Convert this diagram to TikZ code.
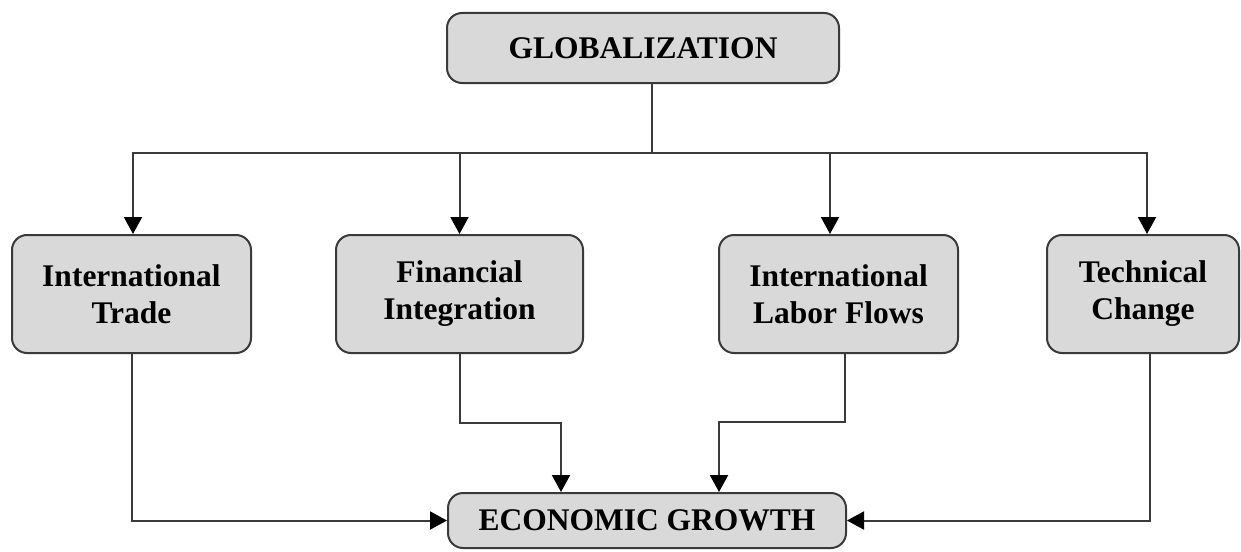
\documentclass[tikz,border=0pt]{standalone}
\usepackage{fontspec}
\setmainfont{Liberation Serif}
\usetikzlibrary{arrows.meta,calc}
\definecolor{boxfill}{HTML}{D9D9D9}
\definecolor{edge}{HTML}{3A3A3A}
\tikzset{
  box/.style={draw=edge, line width=2pt, fill=boxfill, rounded corners=15pt,
    align=center, inner sep=0pt, font=\fontsize{31.5}{37}\selectfont\bfseries},
  conn/.style={draw=edge, line width=2pt},
  arr/.style={conn, -{Triangle[length=17pt,width=18pt,black]}},
}
\begin{document}
\begin{tikzpicture}[x=1pt,y=1pt]
\useasboundingbox (0,0) rectangle (1241,-551);
\fill[white] (0,0) rectangle (1241,-551);
\node[box, minimum width=392pt, minimum height=70pt] (glob) at (643,-48) {GLOBALIZATION};
\node[box, minimum width=239pt, minimum height=118pt] (trade) at (131.5,-294) {International\\Trade};
\node[box, minimum width=247pt, minimum height=118pt] (fin) at (459.5,-294) {Financial\\Integration};
\node[box, minimum width=239pt, minimum height=118pt] (labor) at (838.5,-294) {International\\Labor Flows};
\node[box, minimum width=192pt, minimum height=118pt] (tech) at (1143,-294) {Technical\\Change};
\node[box, minimum width=398pt, minimum height=55pt] (growth) at (647,-520.5) {ECONOMIC GROWTH};
\coordinate (bus) at (652,-153);
% top distribution
\draw[conn] (glob.south -| bus) -- (bus);
\draw[arr] (bus) -| ([xshift=1.5pt]trade.north);
\draw[arr] (bus) -| (fin.north);
\draw[arr] (bus) -| ([xshift=-8.5pt]labor.north);
\draw[arr] (bus) -| ([xshift=4pt]tech.north);
% bottom collection
\draw[arr] (trade.south) |- (growth.west);
\draw[arr] (fin.south) -- ++(0,-69) -| ([xshift=-86pt]growth.north);
\draw[arr] ([xshift=6.5pt]labor.south) -- ++(0,-68) -| ([xshift=72pt]growth.north);
\draw[arr] ([xshift=7pt]tech.south) |- (growth.east);
\end{tikzpicture}
\end{document}
